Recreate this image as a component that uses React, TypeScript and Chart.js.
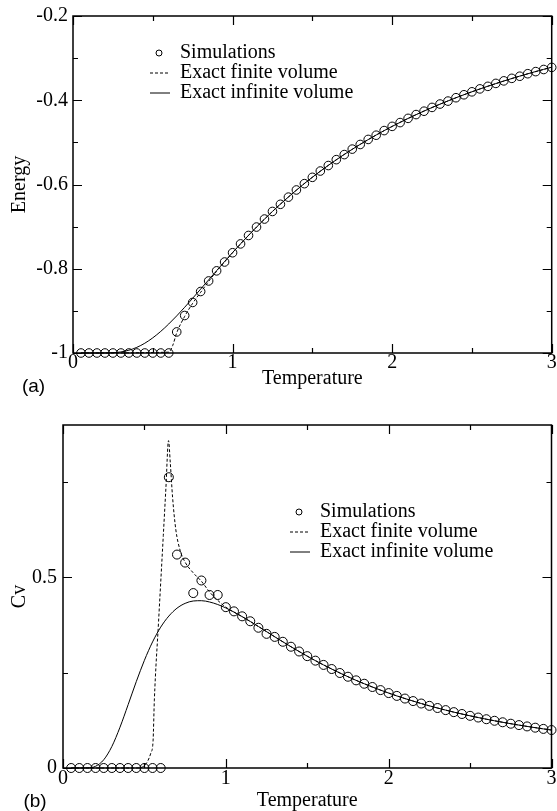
import React, { useEffect, useRef } from "react";
import { Chart, registerables } from "chart.js";

Chart.register(...registerables);

const SERIF = "'Liberation Serif', 'Times New Roman', Times, serif";
const SANS = "'Liberation Sans', Arial, sans-serif";

// ---------- data ----------
const temperature = [
  0.05, 0.1, 0.15, 0.2, 0.25, 0.3, 0.35, 0.4, 0.45, 0.5, 0.55, 0.6, 0.65, 0.7, 0.75, 0.8, 0.85, 0.9, 0.95, 1,
  1.05, 1.1, 1.15, 1.2, 1.25, 1.3, 1.35, 1.4, 1.45, 1.5, 1.55, 1.6, 1.65, 1.7, 1.75, 1.8, 1.85, 1.9, 1.95, 2,
  2.05, 2.1, 2.15, 2.2, 2.25, 2.3, 2.35, 2.4, 2.45, 2.5, 2.55, 2.6, 2.65, 2.7, 2.75, 2.8, 2.85, 2.9, 2.95, 3,
];

const energySim = [
  -1, -1, -1, -1, -1, -1, -1, -1, -1, -1, -1, -1, -0.95, -0.911, -0.88, -0.854, -0.829, -0.805, -0.784, -0.762,
  -0.741, -0.721, -0.701, -0.682, -0.664, -0.647, -0.63, -0.613, -0.598, -0.583, -0.568, -0.555, -0.541, -0.529, -0.516, -0.505, -0.493, -0.483, -0.472, -0.462,
  -0.453, -0.443, -0.434, -0.426, -0.417, -0.409, -0.402, -0.394, -0.387, -0.38, -0.373, -0.367, -0.36, -0.354, -0.348, -0.343, -0.337, -0.332, -0.327, -0.322,
];

const energyInfinite = [
  -1, -1, -1, -0.9999, -0.9993, -0.9975, -0.9934, -0.9866, -0.9768, -0.964, -0.9487, -0.9311, -0.9119, -0.8914, -0.87, -0.8483, -0.8264, -0.8045, -0.7828, -0.7616,
  -0.7409, -0.7207, -0.7011, -0.6822, -0.664, -0.6465, -0.6296, -0.6134, -0.5977, -0.5828, -0.5684, -0.5546, -0.5414, -0.5286, -0.5164, -0.5047, -0.4934, -0.4825, -0.4721, -0.4621,
  -0.4525, -0.4432, -0.4342, -0.4256, -0.4173, -0.4093, -0.4016, -0.3941, -0.3869, -0.3799, -0.3732, -0.3667, -0.3604, -0.3543, -0.3484, -0.3427, -0.3372, -0.3318, -0.3266, -0.3215,
];

const energyFiniteT = [0.05, 0.6, 0.625, 0.65, 0.7, 0.75, 0.8, 0.85, 0.9, 0.95, 1, 1.2, 1.4, 1.6, 1.8, 2, 2.2, 2.4, 2.6, 2.8, 3];
const energyFinite = [-1, -0.998, -0.982, -0.952, -0.913, -0.882, -0.856, -0.83, -0.806, -0.784, -0.762, -0.6822, -0.6134, -0.5546, -0.5047, -0.4621, -0.4256, -0.3941, -0.3667, -0.3427, -0.3215];

const cvSim = [
  0, 0, 0, 0, 0, 0, 0, 0, 0, 0, 0, 0, 0.763, 0.56, 0.539, 0.459, 0.492, 0.454, 0.454, 0.422,
  0.411, 0.398, 0.385, 0.368, 0.352, 0.344, 0.3312, 0.3182, 0.3057, 0.2935, 0.2817, 0.2705, 0.2597, 0.2493, 0.2395, 0.23, 0.2211, 0.2125, 0.2044, 0.1966,
  0.1892, 0.1822, 0.1756, 0.1692, 0.1631, 0.1574, 0.1519, 0.1466, 0.1417, 0.1369, 0.1324, 0.128, 0.1239, 0.12, 0.1162, 0.1126, 0.1091, 0.1058, 0.1026, 0.0996,
];

const cvInfinite = [
  0, 0, 0.0003, 0.0045, 0.0215, 0.0564, 0.107, 0.1662, 0.2266, 0.2826, 0.3308, 0.3696, 0.3987, 0.4193, 0.432, 0.4382, 0.439, 0.4356, 0.429, 0.42,
  0.4092, 0.3972, 0.3845, 0.3713, 0.3578, 0.3444, 0.3312, 0.3182, 0.3057, 0.2935, 0.2817, 0.2705, 0.2597, 0.2493, 0.2395, 0.23, 0.2211, 0.2125, 0.2044, 0.1966,
  0.1892, 0.1822, 0.1756, 0.1692, 0.1631, 0.1574, 0.1519, 0.1466, 0.1417, 0.1369, 0.1324, 0.128, 0.1239, 0.12, 0.1162, 0.1126, 0.1091, 0.1058, 0.1026, 0.0996,
];

const cvFiniteT = [
  0.05, 0.45, 0.49, 0.52, 0.54, 0.553, 0.561, 0.587, 0.616, 0.632, 0.648, 0.659, 0.673, 0.693, 0.72, 0.75, 0.8, 0.85, 0.9, 0.95,
  1, 1.1, 1.2, 1.3, 1.4, 1.5, 1.6, 1.8, 2, 2.2, 2.4, 2.6, 2.8, 3,
];
const cvFinite = [
  0, 0, 0.003, 0.018, 0.04, 0.07, 0.178, 0.385, 0.61, 0.735, 0.859, 0.8, 0.71, 0.625, 0.57, 0.54, 0.512, 0.49, 0.462, 0.44,
  0.422, 0.3972, 0.3713, 0.3444, 0.3182, 0.2935, 0.2705, 0.23, 0.1966, 0.1692, 0.1466, 0.128, 0.1126, 0.0996,
];

const legendLabels = ["Simulations", "Exact finite volume", "Exact infinite volume"];
const panelLabels = ["(a)", "(b)"];
const axisTitles = { x: "Temperature", yTop: "Energy", yBottom: "Cv" };

const xMajor = [0, 1, 2, 3];
const xMinor = [0.5, 1.5, 2.5];
const xLabels = ["0", "1", "2", "3"];
const yTopMajor = [-1, -0.8, -0.6, -0.4, -0.2];
const yTopMinor = [-0.9, -0.7, -0.5, -0.3];
const yTopLabels = ["-1", "-0.8", "-0.6", "-0.4", "-0.2"];
const yBotMajor = [0, 0.5];
const yBotMinor = [0.25, 0.75];
const yBotLabels = ["0", "0.5"];

const pts = (xs: number[], ys: number[]) => xs.map((x, i) => ({ x, y: ys[i] }));

// ---------- plugin: frame, inward ticks, legend, panel label ----------
const framePlugin = {
  id: "frame",
  beforeDatasetsDraw(chart: any, _args: any, opts: any) {
    const { ctx, chartArea: a, scales } = chart;
    const xs = scales.x;
    const ys = scales.y;
    ctx.save();
    ctx.strokeStyle = "#000";
    ctx.lineWidth = 1.5;
    ctx.strokeRect(a.left, a.top, a.right - a.left, a.bottom - a.top);
    ctx.lineWidth = 1.2;
    ctx.beginPath();
    const xt = (vals: number[], len: number) =>
      vals.forEach((v) => {
        const p = Math.round(xs.getPixelForValue(v)) + 0.5;
        ctx.moveTo(p, a.bottom);
        ctx.lineTo(p, a.bottom - len);
        ctx.moveTo(p, a.top);
        ctx.lineTo(p, a.top + len);
      });
    const yt = (vals: number[], len: number) =>
      vals.forEach((v) => {
        const p = Math.round(ys.getPixelForValue(v)) + 0.5;
        ctx.moveTo(a.left, p);
        ctx.lineTo(a.left + len, p);
        ctx.moveTo(a.right, p);
        ctx.lineTo(a.right - len, p);
      });
    xt(opts.xMajor, 9);
    xt(opts.xMinor, 5);
    yt(opts.yMajor, 9);
    yt(opts.yMinor, 5);
    ctx.stroke();
    ctx.restore();
  },
  afterDatasetsDraw(chart: any, _args: any, opts: any) {
    const { ctx } = chart;
    const { x, y, gap } = opts.legend;
    ctx.save();
    ctx.fillStyle = "#000";
    ctx.strokeStyle = "#000";
    ctx.font = `20px ${SERIF}`;
    ctx.textBaseline = "middle";
    ctx.textAlign = "left";
    legendLabels.forEach((label, i) => ctx.fillText(label, x + 30, y + i * gap));
    ctx.lineWidth = 1;
    ctx.beginPath();
    ctx.arc(x + 9, y, 3, 0, Math.PI * 2);
    ctx.stroke();
    ctx.setLineDash([3, 2]);
    ctx.beginPath();
    ctx.moveTo(x, y + gap);
    ctx.lineTo(x + 20, y + gap);
    ctx.stroke();
    ctx.setLineDash([]);
    ctx.beginPath();
    ctx.moveTo(x, y + 2 * gap);
    ctx.lineTo(x + 20, y + 2 * gap);
    ctx.stroke();
    // panel label
    ctx.font = `19px ${SANS}`;
    ctx.textAlign = "center";
    ctx.fillText(opts.panel.text, opts.panel.x, opts.panel.y);
    ctx.restore();
  },
};

function makeConfig(p: any) {
  return {
    type: "scatter",
    data: {
      datasets: [
        {
          label: legendLabels[0],
          data: p.sim,
          showLine: false,
          pointRadius: p.radius,
          pointBorderWidth: 1,
          pointBackgroundColor: "rgba(0,0,0,0)",
          pointBorderColor: "#000",
          borderColor: "#000",
          clip: false,
        },
        {
          label: legendLabels[1],
          data: p.finite,
          showLine: true,
          pointRadius: 0,
          borderColor: "#000",
          borderWidth: 1,
          borderDash: [3, 2],
          cubicInterpolationMode: "monotone",
          clip: false,
        },
        {
          label: legendLabels[2],
          data: p.infinite,
          showLine: true,
          pointRadius: 0,
          borderColor: "#000",
          borderWidth: 1,
          cubicInterpolationMode: "monotone",
          clip: false,
        },
      ],
    },
    options: {
      animation: false,
      responsive: false,
      events: [],
      layout: { padding: p.padding },
      plugins: {
        legend: { display: false },
        tooltip: { enabled: false },
        frame: {
          xMajor,
          xMinor,
          yMajor: p.yMajor,
          yMinor: p.yMinor,
          legend: p.legend,
          panel: p.panel,
        },
      },
      scales: {
        x: {
          type: "linear",
          min: 0,
          max: 3,
          grid: { display: false, drawTicks: false },
          border: { display: false },
          afterBuildTicks: (s: any) => {
            s.ticks = xMajor.map((v) => ({ value: v }));
          },
          afterFit: (s: any) => {
            s.height = p.xHeight;
            s.paddingLeft = 0;
            s.paddingRight = 0;
          },
          ticks: {
            autoSkip: false,
            maxRotation: 0,
            padding: p.xTickPad,
            color: "#000",
            font: { family: SERIF, size: 20, lineHeight: 1 },
            callback: (v: number) => xLabels[xMajor.indexOf(v)],
          },
          title: {
            display: true,
            text: axisTitles.x,
            color: "#000",
            font: { family: SERIF, size: 20, lineHeight: 1 },
            padding: { top: 0, bottom: p.xTitlePad },
          },
        },
        y: {
          type: "linear",
          min: p.yMin,
          max: p.yMax,
          grid: { display: false, drawTicks: false },
          border: { display: false },
          afterBuildTicks: (s: any) => {
            s.ticks = p.yMajor.map((v: number) => ({ value: v }));
          },
          afterFit: (s: any) => {
            s.width = p.yWidth;
            s.paddingTop = 0;
            s.paddingBottom = 0;
          },
          ticks: {
            autoSkip: false,
            padding: p.yTickPad,
            color: "#000",
            font: { family: SERIF, size: 20, lineHeight: 1 },
            callback: (v: number) => p.yLabels[p.yMajor.indexOf(v)],
          },
          title: {
            display: true,
            text: p.yTitle,
            color: "#000",
            font: { family: SERIF, size: 20, lineHeight: 1 },
            padding: { top: 10, bottom: 0 },
          },
        },
      },
    },
    plugins: [framePlugin],
  };
}

export default function App() {
  const topRef = useRef<HTMLCanvasElement | null>(null);
  const botRef = useRef<HTMLCanvasElement | null>(null);

  useEffect(() => {
    const top = new Chart(
      topRef.current as HTMLCanvasElement,
      makeConfig({
        sim: pts(temperature, energySim),
        finite: pts(energyFiniteT, energyFinite),
        infinite: pts(temperature, energyInfinite),
        radius: 4.3,
        padding: { top: 16, right: 4, left: 0, bottom: 0 },
        xHeight: 47,
        yWidth: 73,
        xTickPad: 0,
        yTickPad: 5,
        xTitlePad: 11,
        yMin: -1,
        yMax: -0.2,
        yMajor: yTopMajor,
        yMinor: yTopMinor,
        yLabels: yTopLabels,
        yTitle: axisTitles.yTop,
        legend: { x: 150, y: 53, gap: 20 },
        panel: { text: panelLabels[0], x: 33.5, y: 387 },
      }) as any
    );
    const bot = new Chart(
      botRef.current as HTMLCanvasElement,
      makeConfig({
        sim: pts(temperature, cvSim),
        finite: pts(cvFiniteT, cvFinite),
        infinite: pts(temperature, cvInfinite),
        radius: 4.5,
        padding: { top: 25, right: 2, left: 0, bottom: 0 },
        xHeight: 43,
        yWidth: 63,
        xTickPad: 1,
        yTickPad: 6,
        xTitlePad: 0,
        yMin: 0,
        yMax: 0.9,
        yMajor: yBotMajor,
        yMinor: yBotMinor,
        yLabels: yBotLabels,
        yTitle: axisTitles.yBottom,
        legend: { x: 290, y: 112, gap: 20 },
        panel: { text: panelLabels[1], x: 35, y: 402 },
      }) as any
    );
    return () => {
      top.destroy();
      bot.destroy();
    };
  }, []);

  return (
    <div style={{ position: "absolute", left: 0, top: 0, width: 557, height: 811, overflow: "hidden", background: "#fff" }}>
      <canvas ref={topRef} width={557} height={400} style={{ display: "block", width: 557, height: 400 }} />
      <canvas ref={botRef} width={557} height={411} style={{ display: "block", width: 557, height: 411 }} />
    </div>
  );
}
